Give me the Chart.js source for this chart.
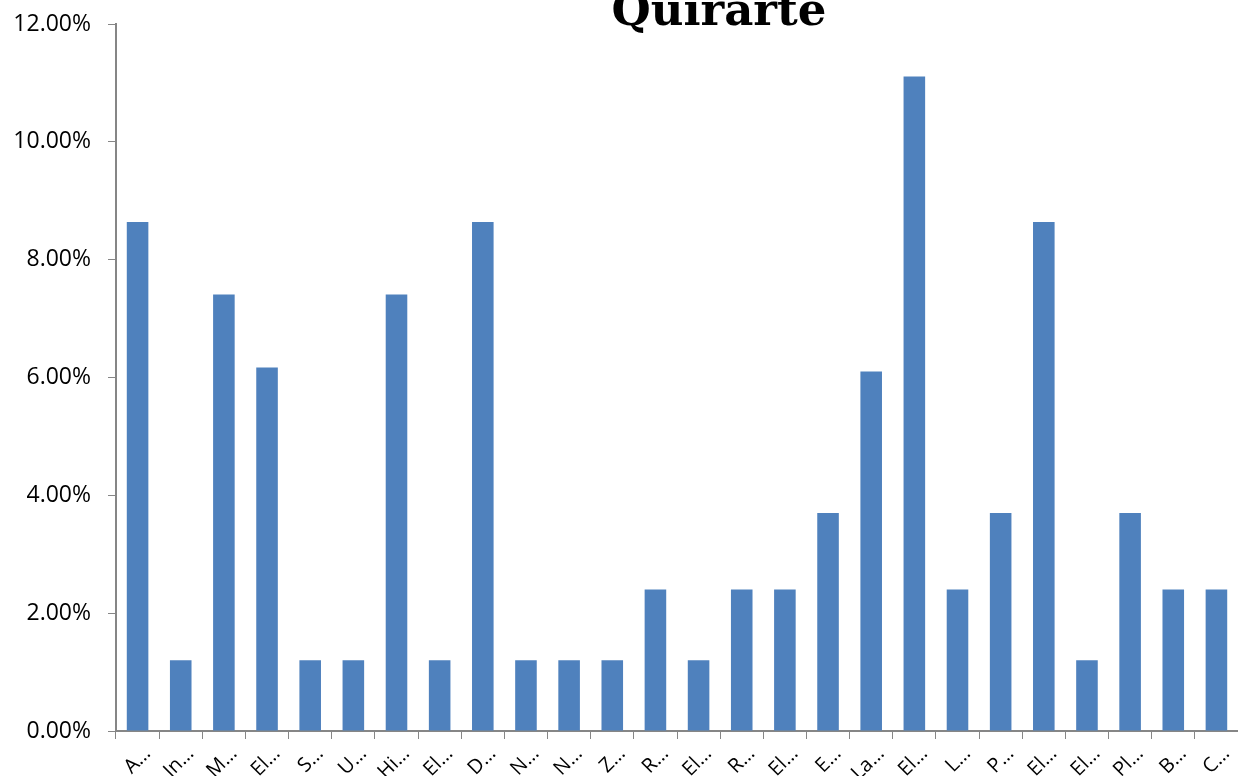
<!DOCTYPE html>
<html>
<head>
<meta charset="utf-8">
<style>
  html, body { margin: 0; padding: 0; background: #fff; overflow: hidden; }
  #wrap { position: relative; width: 1238px; height: 776px; }
  #title {
    position: absolute; left: 519px; width: 400px; top: -17px;
    text-align: center; font: bold 45px "DejaVu Serif", "Liberation Serif", serif;
    color: #000;
  }
</style>
<script src="https://cdn.jsdelivr.net/npm/chart.js"></script>
</head>
<body>
<div id="wrap">
  <canvas id="chart" width="1238" height="776"></canvas>
  <div id="title">Quirarte</div>
</div>
<script>
// Truncated category labels as shown in the chart
const categories = ['A…', 'In…', 'M…', 'El…', 'S…', 'U…', 'Hi…', 'El…', 'D…', 'N…', 'N…', 'Z…', 'R…',
    'El…', 'R…', 'El…', 'E…', 'La…', 'El…', 'L…', 'P…', 'El…', 'El…', 'Pl…', 'B…', 'C…'];

// Share of each category, in percent
const shares = [8.64, 1.2, 7.41, 6.17, 1.2, 1.2, 7.41, 1.2, 8.64, 1.2, 1.2, 1.2, 2.4,
    1.2, 2.4, 2.4, 3.7, 6.1, 11.11, 2.4, 3.7, 8.64, 1.2, 3.7, 2.4, 2.4];

const yTicks = [0, 2, 4, 6, 8, 10, 12];

const axisColor = '#868686';

new Chart(document.getElementById('chart').getContext('2d'), {
    type: 'bar',
    data: {
        labels: categories,
        datasets: [{
            data: shares,
            backgroundColor: '#4F81BD',
            borderWidth: 0,
            categoryPercentage: 1,
            barPercentage: 0.5
        }]
    },
    options: {
        responsive: false,
        animation: false,
        layout: { padding: { top: 24, right: 0, left: 0, bottom: 0 } },
        plugins: {
            legend: { display: false },
            tooltip: { enabled: false }
        },
        scales: {
            x: {
                offset: true,
                grid: {
                    display: true,
                    offset: true,
                    drawOnChartArea: false,
                    color: axisColor,
                    tickLength: 8
                },
                border: { color: axisColor, width: 2 },
                ticks: {
                    autoSkip: false,
                    minRotation: 45,
                    maxRotation: 45,
                    padding: 3,
                    labelOffset: 10,
                    color: '#000',
                    font: { family: 'Open Sans', size: 20 }
                },
                afterFit: scale => {
                    scale.height = 45;
                    scale.paddingLeft = 0;
                    scale.paddingRight = 0;
                }
            },
            y: {
                min: 0,
                max: 12,
                afterBuildTicks: scale => { scale.ticks = yTicks.map(v => ({ value: v })); },
                grid: {
                    display: true,
                    drawOnChartArea: false,
                    color: axisColor,
                    tickLength: 8
                },
                border: { color: axisColor, width: 2 },
                ticks: {
                    padding: 17,
                    color: '#000',
                    font: { family: 'Open Sans', size: 23 },
                    callback: v => v.toFixed(2) + '%'
                },
                afterFit: scale => {
                    scale.width = 116;
                    scale.paddingTop = 0;
                    scale.paddingBottom = 0;
                }
            }
        }
    }
});
</script>
</body>
</html>
